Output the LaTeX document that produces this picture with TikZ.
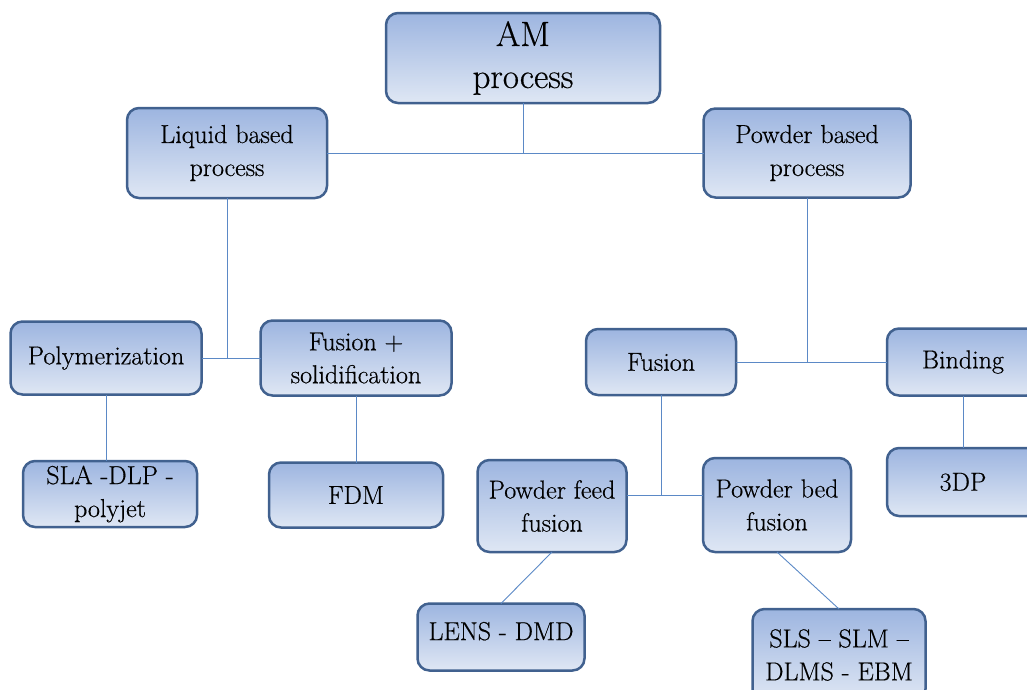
\documentclass[tikz,border=0pt]{standalone}
\usepackage{fontspec}
\setmainfont{Latin Modern Roman}[FakeBold=0.5]
\definecolor{boxline}{HTML}{41618F}
\definecolor{boxtop}{HTML}{9DB5E0}
\definecolor{boxbot}{HTML}{DFE7F4}
\definecolor{linkline}{HTML}{5B89C6}
\begin{document}
\begin{tikzpicture}[x=1pt, y=-1pt, font=\fontsize{26}{33}\selectfont,
        box/.style={draw=boxline, line width=2.5pt, rounded corners=12pt, top color=boxtop, bottom color=boxbot, align=center, inner sep=0pt, outer sep=0pt},
        link/.style={draw=linkline, line width=0.9pt}]
        \useasboundingbox (0,0) rectangle (1027,689);
        \node[box, minimum width=274, minimum height=90, font=\fontsize{35}{42}\selectfont] (am) at (523,58) {AM\\process};
        \node[box, minimum width=200, minimum height=90] (liquid) at (227,153) {Liquid based\\process};
        \node[box, minimum width=207, minimum height=89] (powder) at (807,153) {Powder based\\process};
        \node[box, minimum width=191, minimum height=73] (poly) at (106,358) {Polymerization};
        \node[box, minimum width=191, minimum height=75] (fusol) at (356,358) {Fusion +\\solidification};
        \node[box, minimum width=174, minimum height=66] (sla) at (110,494) {SLA -DLP -\\polyjet};
        \node[box, minimum width=174, minimum height=65] (fdm) at (356,495) {FDM};
        \node[box, minimum width=150, minimum height=66] (fusion) at (661,362) {Fusion};
        \node[box, minimum width=152, minimum height=67] (binding) at (963,362) {Binding};
        \node[box, minimum width=152, minimum height=68] (tdp) at (963,482) {3DP};
        \node[box, minimum width=149, minimum height=92] (feed) at (552,506) {Powder feed\\fusion};
        \node[box, minimum width=148, minimum height=94] (bed) at (777,505) {Powder bed\\fusion};
        \node[box, minimum width=167, minimum height=67] (lens) at (501,637) {\raisebox{12pt}{LENS - DMD}};
        \node[box, minimum width=173, minimum height=92] (sls) at (839,655) {SLS -- SLM --\\DLMS - EBM};
        % links
        \coordinate (top) at (am |- liquid);
        \draw[link] (am) -- (top);
        \draw[link] (liquid) -- (powder);
        \draw[link] (liquid) -- (liquid |- poly);
        \draw[link] (poly) -- (fusol);
        \draw[link] (poly) -- (poly |- sla.north);
        \draw[link] (fusol) -- (fdm);
        \draw[link] (powder) -- (powder |- fusion);
        \draw[link] (fusion) -- (binding);
        \draw[link] (binding) -- (tdp);
        \coordinate (split) at (661,495);
        \draw[link] (fusion) -- (split);
        \draw[link] (feed.east |- split) -- (bed.west |- split);
        \draw[link] (feed.south) -- (lens.north);
        \draw[link] (bed.south) -- (sls.north);
\end{tikzpicture}
\end{document}
